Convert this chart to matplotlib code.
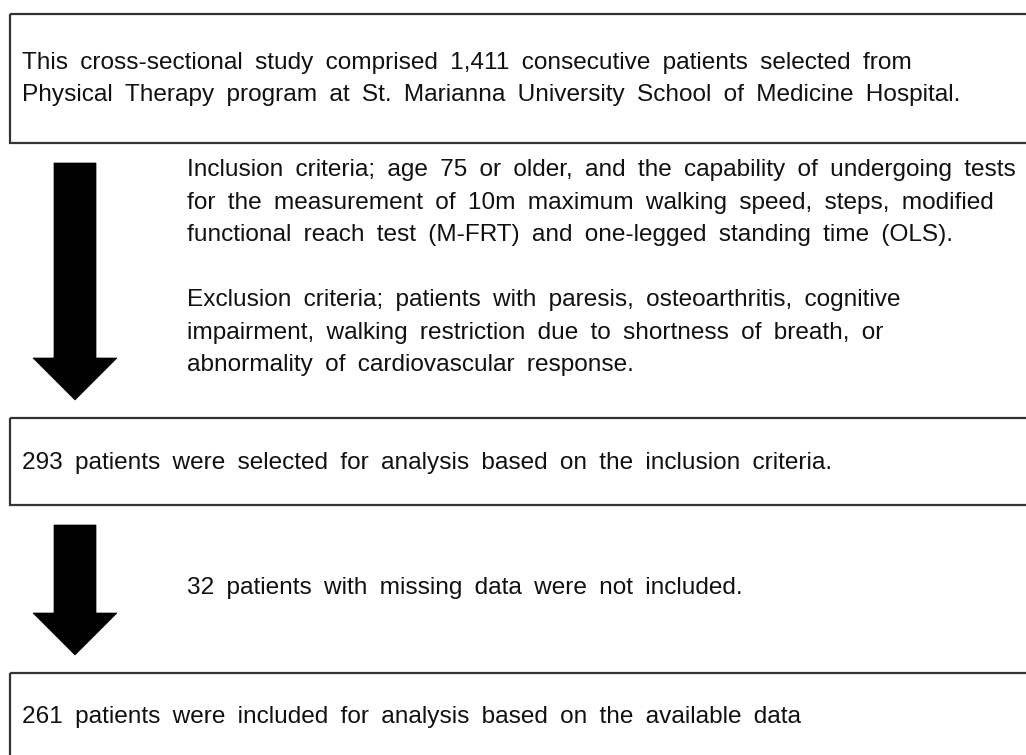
import matplotlib
matplotlib.use("Agg")
import matplotlib.pyplot as plt
from matplotlib.patches import Rectangle, Polygon

# Flowchart content
box_texts = [
    ["This cross-sectional study comprised 1,411 consecutive patients selected from",
     "Physical Therapy program at St. Marianna University School of Medicine Hospital."],
    ["293 patients were selected for analysis based on the inclusion criteria."],
    ["261 patients were included for analysis based on the available data"],
]
side_texts = [
    ["Inclusion criteria; age 75 or older, and the capability of undergoing tests",
     "for the measurement of 10m maximum walking speed, steps, modified",
     "functional reach test (M-FRT) and one-legged standing time (OLS).",
     "",
     "Exclusion criteria; patients with paresis, osteoarthritis, cognitive",
     "impairment, walking restriction due to shortness of breath, or",
     "abnormality of cardiovascular response."],
    ["32 patients with missing data were not included."],
]

W, H = 1026, 755
fig = plt.figure(figsize=(W / 100, H / 100), dpi=100)
ax = fig.add_axes([0, 0, 1, 1])
ax.set_xlim(0, W)
ax.set_ylim(H, 0)
ax.axis("off")

FONT = ["Liberation Sans", "DejaVu Sans"]
FS = 17.6
LS = 32.5
WIDE = "\u2002"  # en space: the reference uses wide word spacing
edge = "#333333"
tcol = "#111111"


def line(x, y, s):
    ax.text(x, y, s.replace(" ", WIDE), fontsize=FS, family=FONT,
            va="center", ha="left", color=tcol)


# boxes: (left, top, bottom)
boxes = [(10, 14, 143), (10, 418, 505), (10, 673, 770)]
box_text_y = [63, 463, 717]
for (l, t, b), lines, ty in zip(boxes, box_texts, box_text_y):
    ax.add_patch(Rectangle((l, t), W + 20 - l, b - t, fill=False,
                           edgecolor=edge, linewidth=1.6, clip_on=False))
    for i, s in enumerate(lines):
        line(22, ty + i * LS, s)

# arrows: (top, head base, tip)
arrows = [(163, 358, 400), (525, 613, 655)]
for top, hb, tip in arrows:
    pts = [(54, top), (96, top), (96, hb), (117, hb), (75, tip), (33, hb), (54, hb)]
    ax.add_patch(Polygon(pts, closed=True, facecolor="black", edgecolor="black", linewidth=0.5))

side_y = [170, 588]
for lines, ty in zip(side_texts, side_y):
    for i, s in enumerate(lines):
        if s:
            line(187, ty + i * LS, s)

fig.savefig("out.png", dpi=100, facecolor="white")
